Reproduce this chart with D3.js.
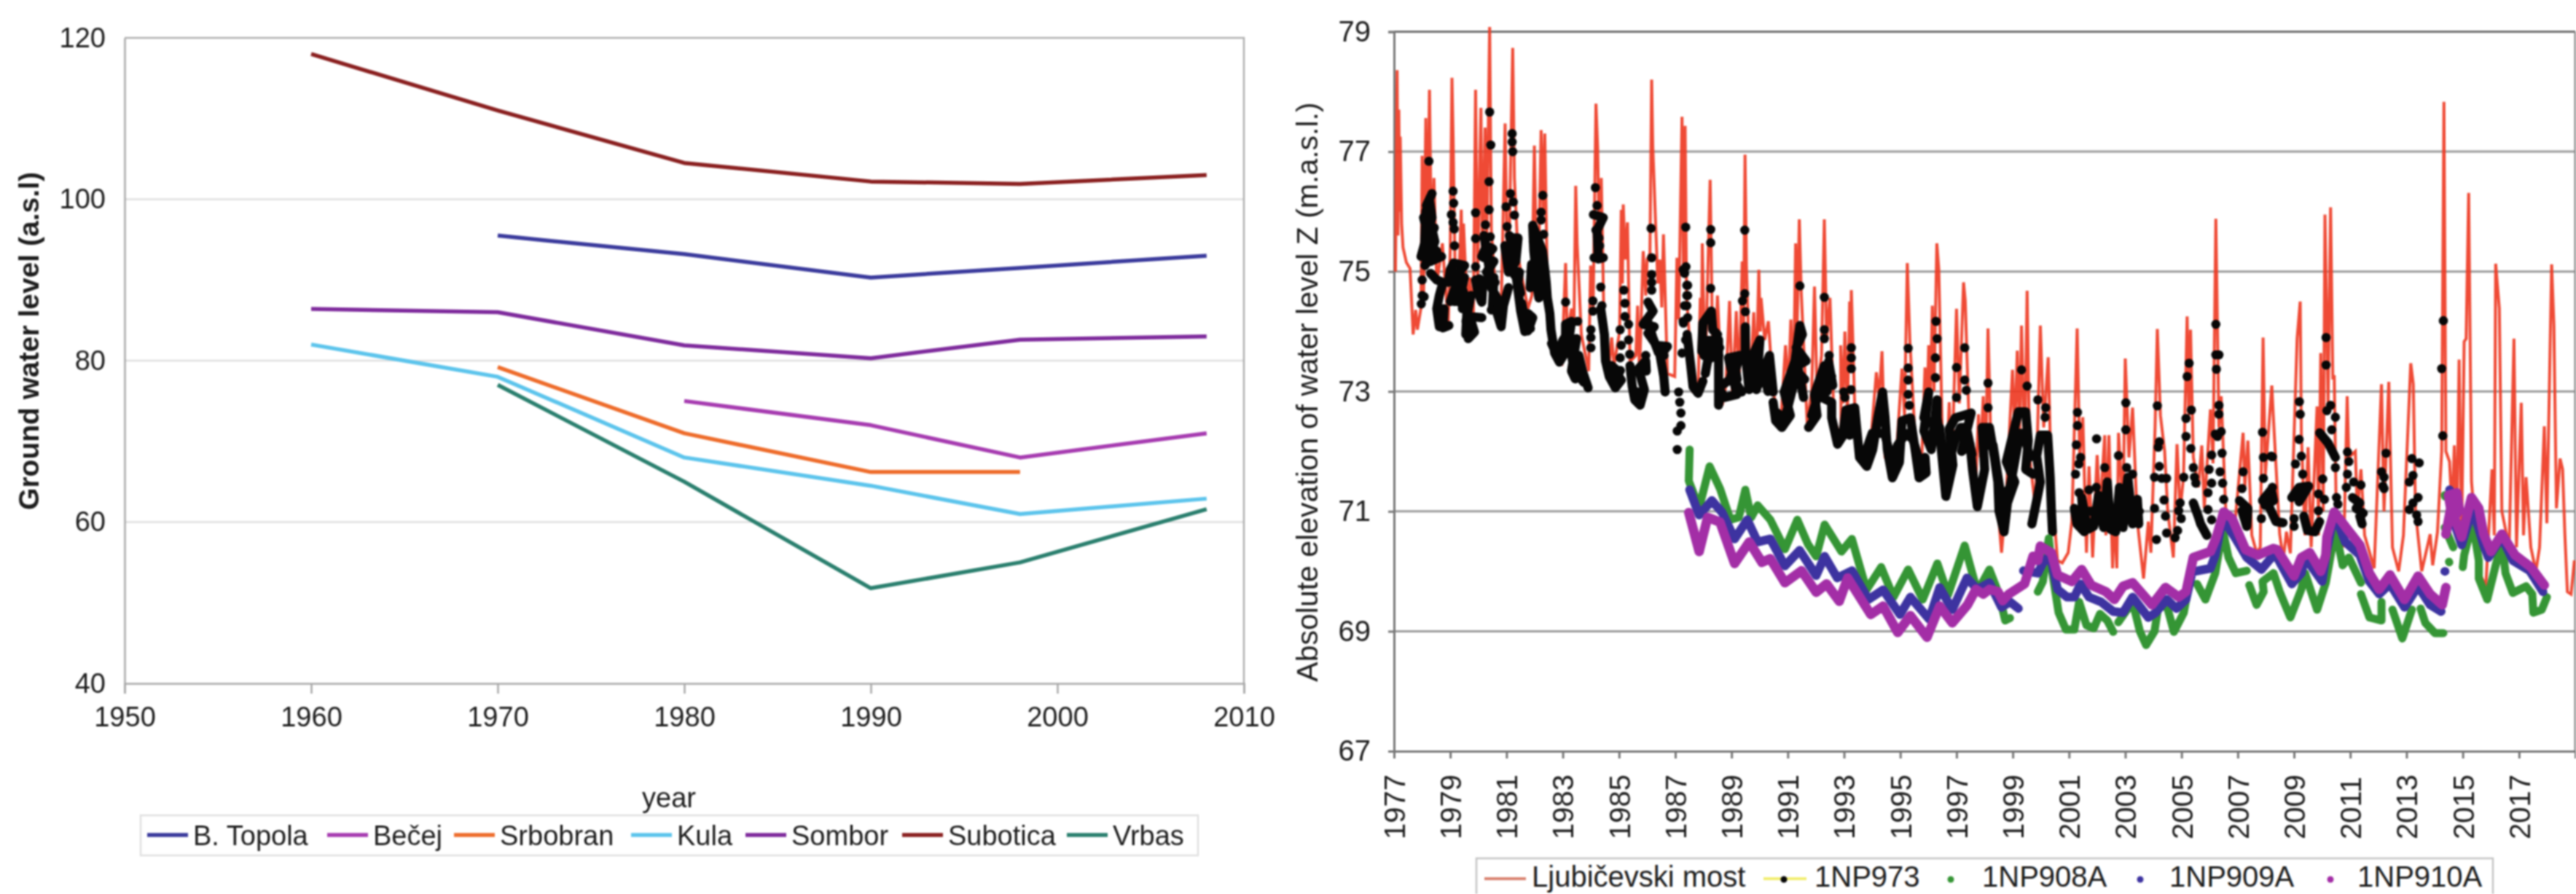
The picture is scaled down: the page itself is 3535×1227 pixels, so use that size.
<!DOCTYPE html>
<html><head><meta charset="utf-8">
<script src="https://cdn.jsdelivr.net/npm/d3@7"></script>
<style>
html,body{margin:0;padding:0;background:#fff;overflow:hidden}
svg{display:block;filter:blur(0.8px)}
text{font-family:"Liberation Sans",Arial,sans-serif;fill:#1c1c1c}
</style></head><body><svg id="c" width="3535" height="1227"></svg>
<script>
// ---------- left chart data ----------
const bTopola=[[1970,95.5],[1980,93.2],[1990,90.3],[1998,91.5],[2008,93]];
const becej=[[1980,75],[1990,72],[1998,68],[2008,71]];
const srbobran=[[1970,79.2],[1980,71],[1990,66.2],[1998,66.2]];
const kula=[[1960,82],[1970,78],[1980,68],[1990,64.5],[1998,61],[2008,62.9]];
const sombor=[[1960,86.4],[1970,86],[1980,81.9],[1990,80.3],[1998,82.6],[2008,83]];
const subotica=[[1960,118],[1970,111],[1980,104.5],[1990,102.2],[1998,101.9],[2008,103]];
const vrbas=[[1970,77],[1980,65],[1990,51.8],[1998,55],[2008,61.6]];
const leftNames=["B. Topola","Bečej","Srbobran","Kula","Sombor","Subotica","Vrbas"];
const leftXTicks=[1950,1960,1970,1980,1990,2000,2010];
const leftYTicks=[40,60,80,100,120];

// ---------- right chart data ----------
const rightYTicks=[67,69,71,73,75,77,79];
const rightXTicks=[1977,1979,1981,1983,1985,1987,1989,1991,1993,1995,1997,1999,2001,2003,2005,2007,2009,2011,2013,2015,2017];
const rightNames=["Ljubičevski most","1NP973","1NP908A","1NP909A","1NP910A"];

const ljubicevski=[[1977.05,75],[1977.11,78.36],[1977.14,75.6],[1977.17,77.7],[1977.2,76],[1977.22,77.25],[1977.27,75.8],[1977.32,75.4],[1977.44,75.15],[1977.57,75.05],[1977.68,73.95],[1977.77,74.36],[1977.83,74.03],[1977.96,74.4],[1978,76.93],[1978.05,74.6],[1978.13,77.56],[1978.18,75.2],[1978.26,78.03],[1978.3,76.56],[1978.36,75.4],[1978.42,76.56],[1978.52,74.8],[1978.72,75.47],[1978.82,74.8],[1978.93,74.17],[1979,75.4],[1979.06,78.23],[1979.1,77.25],[1979.17,75.03],[1979.3,74.7],[1979.39,76.03],[1979.43,75],[1979.47,75.8],[1979.6,74.38],[1979.69,74.9],[1979.82,74.17],[1979.9,78.03],[1979.97,74.9],[1980.09,77.73],[1980.14,75.25],[1980.24,77.4],[1980.29,75.25],[1980.4,79.08],[1980.46,75.7],[1980.59,74.8],[1980.8,74.17],[1980.95,77.47],[1981.02,75.25],[1981.1,75.6],[1981.22,78.73],[1981.28,76.56],[1981.41,75.25],[1981.76,74.38],[1981.9,74.6],[1981.99,77.1],[1982.06,75.25],[1982.16,75.6],[1982.23,77.36],[1982.3,76],[1982.36,77.3],[1982.45,74.8],[1982.71,73.73],[1982.97,73.5],[1983.1,75.14],[1983.16,73.95],[1983.31,74.38],[1983.4,74.2],[1983.46,76.43],[1983.51,75.47],[1983.66,73.95],[1983.92,73.34],[1983.99,75.1],[1984.08,74.4],[1984.18,77.8],[1984.24,77.06],[1984.31,75.2],[1984.37,76.56],[1984.48,73.73],[1984.66,73.5],[1984.74,73.9],[1984.82,73.43],[1985.02,74],[1985.08,76.03],[1985.12,74.8],[1985.15,76.12],[1985.22,75.2],[1985.3,75.82],[1985.39,73.5],[1985.6,73.6],[1985.66,74.43],[1985.73,73.3],[1985.86,75.34],[1985.95,74.6],[1986,75.2],[1986.1,75.3],[1986.16,78.2],[1986.2,77.08],[1986.38,74.8],[1986.45,75.2],[1986.52,74.4],[1986.58,75.62],[1986.72,73.3],[1986.98,73.25],[1987.06,75.23],[1987.12,74.2],[1987.24,77.58],[1987.29,75],[1987.35,77.43],[1987.4,74.6],[1987.63,73],[1987.81,73],[1987.89,74.56],[1987.93,73.6],[1987.96,75.47],[1988.06,73.2],[1988.24,76.53],[1988.33,73.64],[1988.44,73.8],[1988.5,74.6],[1988.67,72.77],[1988.8,73.1],[1988.93,74.51],[1989.03,72.9],[1989.17,74.34],[1989.27,73.1],[1989.38,75.17],[1989.43,74],[1989.48,76.95],[1989.53,75.1],[1989.66,73],[1989.79,74.32],[1989.88,73.2],[1989.97,75.03],[1990.02,74],[1990.05,74.56],[1990.18,73.86],[1990.31,74.17],[1990.48,73],[1990.74,72.38],[1990.92,73.77],[1991.02,73],[1991.11,74.2],[1991.2,73],[1991.28,75.47],[1991.33,74],[1991.41,75.87],[1991.48,74.64],[1991.69,72.47],[1991.85,73],[1991.95,74.75],[1992.04,73],[1992.2,73.6],[1992.3,75.87],[1992.38,73.86],[1992.5,74.56],[1992.64,72.56],[1992.9,72.2],[1992.88,73.77],[1992.96,72.8],[1993.03,74],[1993.12,72.6],[1993.2,74.5],[1993.23,73.4],[1993.26,74.69],[1993.38,72.77],[1993.68,71.8],[1993.94,72.1],[1994.15,73.32],[1994.25,72.9],[1994.35,73.67],[1994.46,71.9],[1994.72,71.69],[1994.88,72.1],[1995.06,73.38],[1995.15,72.6],[1995.25,75.14],[1995.34,73.86],[1995.54,72.12],[1995.75,71.69],[1995.88,73.4],[1995.95,72.6],[1996.01,73.77],[1996.07,72.9],[1996.14,74.43],[1996.2,73],[1996.3,75.47],[1996.37,75.03],[1996.49,72.34],[1996.62,71.34],[1996.74,72.82],[1996.83,71.69],[1997,74.38],[1997.1,72.8],[1997.25,74.82],[1997.31,74.51],[1997.44,72.56],[1997.65,71.08],[1997.78,72.62],[1997.85,71.9],[1997.95,72.92],[1998.03,71.7],[1998.12,74.05],[1998.21,72.36],[1998.38,71.6],[1998.6,70.31],[1998.77,71.27],[1998.99,73.36],[1999.07,72.3],[1999.16,73.68],[1999.24,72.3],[1999.31,74.1],[1999.42,71.9],[1999.51,74.68],[1999.6,71.9],[1999.81,71.05],[1999.98,74.1],[2000.1,72.4],[2000.26,73.57],[2000.37,71.5],[2000.59,70.18],[2000.76,70.14],[2000.97,70.31],[2001.1,70.83],[2001.29,74.05],[2001.38,71.9],[2001.49,72.57],[2001.62,70.31],[2001.71,71.75],[2001.84,70.23],[2002,71.94],[2002.1,71],[2002.27,72.27],[2002.31,70.6],[2002.42,72.27],[2002.55,70.05],[2002.61,71],[2002.7,70.05],[2002.76,72.31],[2002.92,71],[2003,73.55],[2003.13,71.9],[2003.26,72.73],[2003.43,70.83],[2003.65,69.88],[2003.82,70.83],[2003.91,70.31],[2004.06,72.4],[2004.14,74.04],[2004.25,72.6],[2004.4,72],[2004.51,71],[2004.71,70.23],[2004.84,72.12],[2004.95,71],[2005.07,71.57],[2005.2,74.25],[2005.26,72.6],[2005.32,74.03],[2005.42,71.9],[2005.6,71.4],[2005.72,72.1],[2005.81,71.05],[2006.03,72.7],[2006.12,71.8],[2006.22,75.88],[2006.33,72.4],[2006.41,72.92],[2006.57,71.05],[2006.9,70.8],[2007.19,72.31],[2007.25,71.4],[2007.36,72.18],[2007.5,70.6],[2007.67,70.31],[2007.8,70.4],[2007.9,73.9],[2007.98,71.6],[2008.21,73.1],[2008.26,72.62],[2008.49,70.62],[2008.62,70.2],[2008.73,70.66],[2008.87,70.3],[2009.11,73.88],[2009.22,74.5],[2009.26,72.3],[2009.39,70.6],[2009.5,72.07],[2009.61,70.4],[2009.82,72.75],[2009.87,70.6],[2009.95,73.64],[2010.04,71],[2010.1,75.95],[2010.21,72.8],[2010.3,76.07],[2010.38,73.2],[2010.43,73.27],[2010.5,71],[2010.77,70.4],[2010.89,72.92],[2010.95,71.9],[2011.18,72],[2011.25,71],[2011.38,71.7],[2011.51,70.6],[2011.85,70.05],[2012.11,73.12],[2012.2,71],[2012.37,73.16],[2012.5,70.4],[2012.72,70],[2012.89,70.6],[2013.15,73.47],[2013.24,73.12],[2013.32,71],[2013.54,70],[2013.84,70.62],[2013.93,70.1],[2014.1,70.65],[2014.25,72],[2014.33,77.83],[2014.4,72],[2014.53,71.83],[2014.62,71],[2014.7,72.1],[2014.79,70.8],[2014.87,73.53],[2014.96,70.6],[2015.05,73.83],[2015.12,73.88],[2015.21,76.31],[2015.31,71.5],[2015.57,70],[2015.82,69.75],[2016.04,71.7],[2016.12,70.6],[2016.17,75.13],[2016.3,74.38],[2016.39,71],[2016.65,70.4],[2016.82,73.88],[2016.91,70.4],[2017.08,72.81],[2017.16,70.6],[2017.25,71.57],[2017.42,70.4],[2017.6,70],[2017.73,70.4],[2017.9,72.42],[2017.99,70.8],[2018.16,75.12],[2018.24,74.1],[2018.33,71.05],[2018.46,71.88],[2018.55,71.7],[2018.63,70.62],[2018.72,69.66],[2018.85,69.62],[2018.97,70.18]];

const np973Runs=[
[1977.96,75.25],[1978.09,75.47],[1978.13,76],[1978.26,76.2],[1978.35,75.9],[1978.22,75.69],[1978.43,75.73],[1978.17,75.47],[1978.52,75.34],[1978.04,75.25],[1978.69,75.25],[1978.3,75.17],null,
[1978.3,74.97],[1978.52,74.86],[1978.74,74.82],[1978.61,74.6],[1978.52,74.38],[1978.61,74.08],[1978.78,74.38],[1978.74,74.06],[1978.95,74.1],null,
[1978.93,74.82],[1979,75.03],[1979.12,75.14],[1979.51,75.1],[1979.08,74.86],[1979.34,74.82],[1979.51,74.6],[1979.43,74.38],[1979.73,74.6],[1979.56,74.17],[1979.64,73.88],[1979.86,73.99],[1979.69,74.25],[1980.12,74.23],null,
[1979.9,74.86],[1979.99,74.64],[1980.12,74.49],[1980.16,74.82],[1980.03,74.88],null,
[1980.12,75.25],[1980.29,75.43],[1980.51,75.38],[1980.2,75.23],[1980.55,75.17],[1980.29,74.99],[1980.59,74.82],[1980.46,74.73],[1980.72,74.51],[1980.64,74.34],[1980.81,74.08],[1980.89,74.43],[1981.07,74.73],null,
[1981.07,74.99],[1980.94,75.43],[1981.15,75.34],[1981.24,75.56],[1981.41,75.56],[1981.33,75.17],[1981.15,75.03],[1981.46,74.99],[1981.41,74.82],[1981.5,74.64],null,
[1981.54,74.47],[1981.63,74.25],[1981.59,74.17],[1981.76,74.01],[1981.93,74.23],[1981.76,74.3],null,
[1981.84,74.73],[1981.89,75.12],[1982.06,74.82],[1982.15,74.56],[1981.97,75.34],[1981.93,75.77],[1982.1,75.56],[1982.28,75.34],[1982.36,75.03],[1982.41,74.82],[1982.45,74.56],[1982.54,74.3],[1982.58,74.03],[1982.71,73.64],[1982.88,73.49],[1983.1,73.66],[1983.1,74.12],[1983.31,74.17],[1983.18,73.73],[1983.49,73.88],[1983.31,73.34],[1983.44,73.21],[1983.57,73.6],[1983.7,73.34],[1983.9,73.06],null,
[1984.09,75.95],[1984.44,75.9],[1984.22,75.69],[1984.26,75.21],[1984.44,75.23],[1984.11,75.23],null,
[1984.35,74.38],[1984.48,73.95],[1984.52,73.51],[1984.65,73.25],[1984.87,73.06],[1985.08,73.19],[1984.74,73.43],[1985,73.32],null,
[1985.39,73.43],[1985.47,73.08],[1985.56,72.86],[1985.75,72.77],[1985.9,73.03],[1985.69,73.38],[1985.95,73.51],[1985.97,73.34],null,
[1986.03,74.49],[1986.21,74.34],[1985.86,74.12],[1986.25,74.08],[1986.03,73.97],[1986.33,73.77],[1986.72,73.75],[1986.46,73.6],[1986.59,73.25],[1986.64,72.99],null,
[1987.42,73.95],[1987.55,73.43],[1987.63,73.08],[1987.81,72.97],[1987.98,73.17],null,
[1987.94,73.67],[1987.98,74.14],[1988.28,74.34],[1988.33,74.03],[1988.5,73.95],[1988.02,73.6],[1988.58,73.73],[1988.15,73.51],[1988.07,73.3],null,
[1988.54,73.86],[1988.54,72.77],[1988.63,72.99],[1988.76,72.9],[1989.19,72.95],[1988.89,73.56],[1989.29,73.6],[1989.06,73.21],[1989.36,72.99],null,
[1989.49,74.08],[1989.49,73.64],[1989.62,73.03],[1989.71,73.56],[1990.01,73.86],[1989.88,73.03],[1990.35,73.6],[1990.48,72.99],null,
[1990.48,72.82],[1990.57,72.51],[1990.79,72.4],[1991.09,72.6],[1990.87,72.99],[1991.26,73.51],[1991.43,74.1],[1991.52,73.95],[1991.3,73.73],[1991.65,73.51],[1991.35,73.43],[1991.56,72.9],null,
[1991.74,72.4],[1992.04,72.6],[1991.95,72.95],[1992.3,73.43],[1992.56,73.25],[1992.21,72.9],[1992.56,72.82],[1992.56,72.56],[1992.77,72.12],[1992.95,72.25],[1993.07,72.69],[1993.38,72.73],[1993.2,72.27],null,
[1993.38,72.73],[1993.46,72.34],[1993.55,71.9],[1993.81,71.75],[1994.02,72.03],[1994.2,72.56],[1994.37,72.99],[1994.46,72.56],[1994.54,72.03],[1994.72,71.56],[1994.97,71.82],[1995.06,72.51],[1995.36,72.56],[1995.54,71.99],[1995.67,71.56],[1995.92,71.64],[1995.88,71.9],null,
[1995.84,72.56],[1996.01,72.99],[1995.97,72.82],[1995.84,72.34],[1996.1,72.03],[1996.31,72.86],[1996.31,72.56],[1996.44,72.12],[1996.62,71.25],[1996.87,71.77],[1996.74,72.38],[1996.96,72.56],[1997.52,72.64],[1997.18,72],[1997.48,72.12],[1997.57,71.69],[1997.74,71.08],[1998,71.7],[1997.91,72.4],[1998.17,72.4],[1998.34,71.92],[1998.47,71.49],[1998.51,71.01],[1998.69,70.66],[1998.81,71.14],[1999.07,71.49],[1998.77,71.83],[1999.2,72.66],[1999.46,72.66],[1999.55,72.18],[1999.46,71.7],[1999.72,71.62],null,
[1999.68,70.79],[1999.85,71.18],[1999.98,71.49],[1999.85,71.92],[1999.98,72.27],[2000.24,72.27],[2000.33,71.57],[2000.37,71.05],[2000.41,70.66],null,
[2001.19,71.05],[2001.28,70.79],[2001.54,70.66],[2001.45,71.23],[2001.66,70.7],[2001.88,70.75],[2002.05,71.27],[2002.23,70.73],[2002.36,71.49],[2002.48,70.7],[2002.66,70.66],[2002.79,71.4],[2002.92,70.73],[2003.09,71.57],[2003.26,70.79],[2003.43,71.2],[2003.48,70.79],null,
[2005.42,71.14],[2005.59,70.92],[2005.68,70.79],[2005.9,70.6],null,
[2007.06,71.18],[2007.36,71.05],[2007.32,70.75],[2007.15,71.01],null,
[2007.88,71.18],[2008.19,71.36],[2008.27,71.18],[2007.97,71.1],null,
[2008.14,71.05],[2008.36,70.83],[2008.61,70.81],null,
[2008.92,71.23],[2009.18,71.4],[2009.52,71.42],[2009.18,71.16],null,
[2009.35,70.92],[2009.48,70.68],[2009.74,70.66],[2009.91,70.83],null,
[2009.91,72.31],[2010.21,72.14],[2010.47,71.9],null,
[2011.08,71.23],[2011.34,71.14],[2011.21,71.05],[2011.46,70.97],[2011.34,70.92],[2011.42,70.79],null,
[1978.05,75.9],[1978.4,75.3],[1978.1,75.1],[1978.45,75.5],[1978.15,76.1],[1978.35,76.3],null,
[1979,74.5],[1979.3,74.9],[1979.15,74.5],[1979.5,74.9],[1979.3,74.5],[1979.6,74.4],[1979.55,73.95],[1979.85,74],null,
[1980.2,75.6],[1980.4,75],[1980.25,74.8],[1980.55,74.9],[1980.5,74.4],[1980.75,74.3],null,
[1981.1,75.6],[1981.3,75.3],[1981.05,75.1],[1981.35,74.9],[1981.5,74.35],[1981.65,74],[1981.85,74.05],null,
[1981.95,75.5],[1982.2,75.3],[1982,75],[1982.25,74.9],[1982.1,75.1],null,
[1982.6,73.8],[1982.8,73.6],[1983,73.85],[1983.2,74],[1983.35,73.5],[1983.5,73.3],[1983.75,73.15],null,
[1984.6,73.45],[1984.85,73.2],[1985.05,73.35],null,
[1985.6,73],[1985.8,72.95],null,
[1986,74.2],[1986.2,73.9],[1986.4,73.65],[1986.6,73.6],null,
[1988.1,73.85],[1988.4,73.85],[1988.2,73.55],[1988.55,73.6],null,
[1988.65,73.1],[1988.95,73.2],[1989.1,73.5],[1989.2,73.2],null,
[1989.55,73.4],[1989.8,73.3],[1990,73.4],[1990.2,73.2],[1990.3,73],null,
[1990.6,72.65],[1990.9,72.55],[1991.2,73.1],[1991.4,73.3],[1991.6,73.2],null,
[1991.85,72.6],[1992.2,73.1],[1992.4,73],[1992.45,73.5],[1992.6,73.1],null,
[1993.7,71.9],[1994,72.3],[1994.25,72.3],[1994.45,72.3],[1994.7,71.8],[1994.9,72.1],[1995.2,72.3],[1995.45,72.2],[1995.7,71.8],null,
[1996.05,72.5],[1996.25,72.4],[1996.4,72.4],[1996.6,71.6],[1996.95,72.2],[1997.15,72.4],[1997.35,72.4],[1997.55,71.95],null,
[1998.05,72.1],[1998.3,72.1],[1998.6,71.2],[1998.9,71.4],[1999.25,72.3],[1999.4,72.3],[1999.6,71.9],null,
[2001.3,71],[2001.7,71],[2002,71],[2002.4,71],[2002.8,71],[2003.2,71],[2003.5,71]
];
const np973Dots=[[1978,74.86],[1978,74.6],[1978.07,74.58],[1977.97,74.46],[1978.24,76.84],[1979.1,76.34],[1979.12,76.14],[1979.04,75.95],[1979.1,75.82],[1979.14,75.71],[1979.15,75.43],[1979.9,75.98],[1979.9,75.55],[1979.9,75.08],[1980.4,77.66],[1980.44,77.11],[1980.38,76.5],[1980.38,76.03],[1980.25,75.78],[1980.42,75.58],[1981.2,77.3],[1981.2,77.16],[1981.22,77],[1981.14,76.3],[1981.24,76.16],[1980.98,76.08],[1981.28,75.94],[1981.02,75.75],[1980.46,74.36],[1982.29,76.27],[1982.23,75.99],[1982.23,75.86],[1982.32,75.62],[1983.1,74.49],[1983.53,74.17],[1984.07,74.51],[1984.07,74.34],[1984,74.03],[1984,73.9],[1984,73.73],[1984.16,76.4],[1984.22,76.1],[1984.18,75.69],[1984.29,75.56],[1984.31,75.43],[1984.35,74.74],[1984.39,74.43],[1985.17,74.69],[1985.21,74.47],[1985.21,74.25],[1985.34,74.12],[1985.04,74.03],[1985.34,73.86],[1985.08,73.77],[1985.38,73.62],[1985.04,73.56],[1986.14,75.72],[1986.16,75.23],[1986.16,74.95],[1986.16,74.82],[1986.16,74.69],[1985.95,73.6],[1987.37,75.74],[1987.28,75.03],[1987.41,74.77],[1987.41,74.6],[1987.41,74.43],[1987.28,74.17],[1987.37,73.86],[1987.24,73.64],[1987.12,72.99],[1987.16,72.82],[1987.2,72.64],[1987.2,72.43],[1987.07,72.34],[1987.07,72.03],[1987.38,75.08],[1987.33,74.97],[1987.44,74.77],[1987.44,74.6],[1987.33,74.43],[1987.44,74.23],[1987.29,74.14],[1988.26,75.7],[1988.26,75.48],[1988.26,74.72],[1989.47,75.69],[1989.47,74.63],[1989.39,74.51],[1989.49,74.33],[1991.43,74.76],[1992.3,74.57],[1992.3,74.03],[1992.3,73.88],[1992.47,73.6],[1995.28,73.72],[1995.28,73.39],[1995.28,73.19],[1995.28,72.95],[1995.32,72.77],[1996.27,74.17],[1996.31,73.88],[1996.25,73.56],[1996.25,73.23],[1997,73.4],[1997.29,73.73],[1997.29,73.19],[1997.35,73.02],[1997,72.9],[1993.26,73.73],[1993.26,73.56],[1993.26,73.38],[1992.99,72.99],[1993.25,73.03],[1993.03,72.9],[1998.12,73.14],[1998.12,72.73],[1999.31,73.36],[1999.51,73.09],[1999.89,72.86],[2000.17,72.73],[2000.15,72.57],[2001.3,72.65],[2001.3,72.43],[2001.26,72.11],[2001.41,71.9],[2001.35,71.79],[2001.23,71.62],[2001.36,71.31],[2001.98,72.21],[2002.76,71.93],[2003.02,72.81],[2003.02,72.36],[2003.05,71.73],[2002.27,71.73],[2003.26,71.62],[2001.71,71.36],[2001.97,71.4],[2004.14,72.76],[2004.21,72.16],[2004.17,72.07],[2004.21,71.75],[2004.04,71.57],[2004.47,71.55],[2004.3,71.55],[2004.38,71.19],[2004.04,71.05],[2004.43,70.92],[2004.47,70.64],[2004.11,70.53],[2004.77,70.56],[2004.95,71.14],[2004.99,70.88],[2004.86,70.68],[2004.9,71.01],[2005.27,73.47],[2005.2,73.25],[2005.35,72.69],[2005.16,72.55],[2005.16,72.25],[2005.33,72.05],[2005.42,71.73],[2005.08,71.57],[2005.46,71.57],[2005.51,71.47],[2006.22,74.12],[2006.22,73.61],[2006.33,73.61],[2006.24,73.37],[2006.33,72.77],[2006.33,72.62],[2006.2,72.29],[2006.41,72.33],[2006.28,72.25],[2006.07,71.94],[2006.44,71.97],[2006.37,71.66],[2005.98,71.7],[2006.07,71.47],[2006.46,71.47],[2005.94,71.31],[2006.5,71.2],[2005.94,71.03],[2006.07,70.86],[2007.19,71.66],[2007.15,71.38],[2007.88,72.32],[2007.91,71.9],[2007.91,71.55],[2008.19,71.92],[2007.84,70.88],[2008.23,71.91],[2008.23,71.4],[2008.23,71.23],[2009.19,72.83],[2009.22,72.62],[2009.18,72.2],[2009.26,71.92],[2009.05,71.79],[2009.31,71.62],[2009,70.88],[2009,70.75],[2009.87,71.01],[2009.87,71.29],[2010.08,71.2],[2010.02,71.54],[2010.14,73.9],[2010.14,73.44],[2010.3,72.77],[2010.17,72.68],[2010.47,72.57],[2010.34,72.36],[2010.47,71.73],[2010.51,71.23],[2010.56,71.12],[2010.9,71.99],[2010.95,71.83],[2010.9,71.62],[2010.86,71.4],[2011.12,71.49],[2011.38,71.44],[2012.27,71.97],[2012.11,71.66],[2012.2,71.57],[2012.16,71.42],[2012.2,71.38],[2013.19,71.88],[2013.45,71.81],[2013.23,71.6],[2013.1,71.49],[2013.41,71.23],[2013.23,71.14],[2013.1,71.03],[2013.36,70.94],[2013.41,70.83],[2014.31,74.18],[2014.25,73.38],[2014.29,72.26]];

const np908A=[[1987.51,72.03],[1987.48,71.51],[1987.85,71.06],[1988.22,71.75],[1988.59,71.38],[1988.96,70.86],[1989.26,70.9],[1989.49,71.36],[1989.7,70.9],[1989.93,71.1],[1990.38,70.86],[1990.9,70.37],[1991.34,70.86],[1991.72,70.45],[1992.01,70.25],[1992.31,70.78],[1992.91,70.33],[1993.28,70.54],[1993.8,69.69],[1994.32,70.07],[1994.76,69.57],[1995.28,70.03],[1995.8,69.53],[1996.32,70.13],[1996.7,69.61],[1997.29,70.43],[1997.74,69.66],[1998.17,70.03],[1998.51,69.62],[1998.73,69.18],[1998.9,69.22],null,[1999.89,69.66],[2000.07,69.83],[2000.28,70.55],[2000.41,69.97],[2000.63,69.31],[2000.89,69.03],[2001.19,69.03],[2001.36,69.49],[2001.62,69.1],[2001.88,69.05],[2002.1,69.29],[2002.36,69.18],[2002.57,68.99],null,[2002.75,69.15],[2003.26,69.49],[2003.52,69],[2003.74,68.77],[2004.04,69],[2004.17,69.4],[2004.47,69.44],[2004.73,68.99],[2005.08,69.31],[2005.25,69.75],null,[2005.55,69.79],[2005.85,69.53],[2006.2,69.97],[2006.46,70.7],[2006.67,70.23],[2006.93,69.97],[2007.32,70.01],null,[2007.41,69.77],[2007.67,69.44],[2007.92,69.66],[2007.88,69.83],[2008.27,69.97],[2008.49,69.66],[2008.87,69.23],[2009.26,69.7],[2009.39,69.97],[2009.82,69.36],[2010.13,69.81],[2010.47,70.7],[2010.73,70.1],[2010.95,70.23],[2011.38,69.81],null,[2011.38,69.62],[2011.68,69.23],[2012.11,69.18],[2012.11,69.49],null,[2012.5,69.36],[2012.85,68.88],[2013.19,69.36],null,[2013.5,69.38],[2013.67,69.14],[2014.01,68.97],[2014.31,68.97],null,[2014.36,71.27],[2014.37,71.25],null,[2014.36,70.73],[2014.66,70.4],null,[2014.51,70.16],[2014.52,70.15],null,[2015,70.07],[2015.05,70.27],[2015.35,70.83],[2015.57,70.18],[2015.57,69.88],[2015.87,69.53],[2016.17,70.1],[2016.39,70.49],[2016.52,69.97],[2016.78,69.64],[2017.25,69.75],[2017.47,69.62],[2017.51,69.31],[2017.81,69.36],[2017.99,69.57]];

const np909A=[[1987.51,71.36],[1987.85,70.94],[1988.3,71.18],[1988.67,70.98],[1989.11,70.54],[1989.56,70.86],[1989.93,70.49],[1990.38,70.54],[1990.9,70.09],[1991.42,70.35],[1992.01,69.93],[1992.31,70.25],[1992.76,69.89],[1993.28,70.01],[1993.87,69.53],[1994.39,69.69],[1994.99,69.28],[1995.36,69.57],[1996.03,69.2],[1996.4,69.73],[1996.85,69.36],[1997.37,69.89],[1997.74,69.7],[1998.17,69.81],[1998.6,69.4],[1998.9,69.49],[1999.2,69.38],null,[1999.38,70.01],[1999.89,69.97],[2000.07,70.14],[2000.33,70.27],[2000.59,69.7],[2000.93,69.57],[2001.19,69.57],[2001.41,69.79],[2001.71,69.57],[2002.14,69.49],[2002.57,69.33],[2002.92,69.31],[2003.26,69.57],[2003.82,69.23],[2004.08,69.31],[2004.47,69.53],[2004.82,69.38],[2005.16,69.53],[2005.38,69.99],[2006.03,70.05],[2006.2,70.27],[2006.46,70.88],[2006.89,70.57],[2007.32,70.23],[2007.84,70.03],[2008.27,70.27],[2008.4,70.23],[2008.92,69.79],[2009.26,69.97],[2009.39,70.23],[2010,69.83],[2010.17,70.36],[2010.43,70.97],[2010.82,70.49],[2011.34,70.27],[2011.68,69.83],[2012.03,69.62],[2012.41,69.79],[2012.93,69.4],[2013.41,69.75],[2013.84,69.44],[2014.23,69.33],null,[2014.36,70],[2014.37,70],null,[2014.53,71.36],[2014.79,71.1],[2014.7,70.8],[2014.96,70.44],[2015.35,71.05],[2015.74,70.44],[2015.91,70.23],[2016.39,70.57],[2016.78,70.18],[2017.38,70.01],[2017.85,69.66]];

const np910A=[[1987.48,70.98],[1987.85,70.33],[1988.15,70.9],[1988.59,70.82],[1989.11,70.13],[1989.63,70.49],[1990.08,70.15],[1990.38,70.21],[1990.9,69.81],[1991.49,70.01],[1992.01,69.65],[1992.38,69.79],[1992.83,69.5],[1993.13,69.89],[1993.95,69.28],[1994.39,69.42],[1994.91,68.98],[1995.36,69.26],[1995.95,68.9],[1996.4,69.42],[1996.85,69.14],[1997.39,69.44],[1997.69,69.7],[1997.95,69.62],[1998.17,69.7],[1998.47,69.66],[1998.64,69.51],[1998.86,69.62],[1999.42,69.79],[1999.72,70.25],[1999.89,70.18],[1999.98,70.42],[2000.37,70.31],[2000.59,69.94],[2001.1,69.83],[2001.45,70.03],[2001.79,69.77],[2002.31,69.66],[2002.61,69.53],[2002.92,69.75],[2003.26,69.81],[2003.95,69.44],[2004.43,69.73],[2004.9,69.57],[2005.16,69.66],[2005.42,70.23],[2006.03,70.33],[2006.24,70.57],[2006.5,70.99],[2006.8,70.88],[2007.28,70.36],[2007.71,70.27],[2008.27,70.38],[2008.4,70.36],[2009,69.92],[2009.26,70.23],[2009.56,70.31],[2009.95,70],[2010.13,70.27],[2010.17,70.57],[2010.43,70.99],[2010.9,70.7],[2011.34,70.44],[2011.68,69.97],[2012.03,69.7],[2012.41,69.94],[2012.93,69.53],[2013.41,69.92],[2013.84,69.62],[2014.27,69.44],[2014.4,69.73],null,[2014.4,70.62],[2014.57,71.05],[2014.49,71.27],[2014.79,71.31],[2014.88,71.02],[2014.7,70.9],[2014.96,70.57],[2015.31,71.23],[2015.57,71.05],[2015.74,70.62],[2016,70.33],[2016.39,70.62],[2016.86,70.27],[2017.42,70.07],[2017.9,69.77]];

// ---------- drawing ----------
const svg=d3.select("#c");
const lineOf=(x,y)=>d3.line().defined(d=>d!==null).x(d=>x(d[0])).y(d=>y(d[1]));

// left panel
const lx=d3.scaleLinear().domain([1950,2010]).range([171,1707]);
const ly=d3.scaleLinear().domain([40,120]).range([938,52]);
const L=svg.append("g");
L.append("g").selectAll("line").data([60,80,100]).join("line")
 .attr("x1",lx(1950)).attr("x2",lx(2010)).attr("y1",d=>ly(d)).attr("y2",d=>ly(d))
 .attr("stroke","#dedede").attr("stroke-width",2.5);
L.append("path").attr("d",`M${lx(1950)},${ly(120)}H${lx(2010)}V${ly(40)}`).attr("fill","none").attr("stroke","#b0b0b0").attr("stroke-width",2.5);
const laxX=L.append("g").attr("transform",`translate(0,${ly(40)})`)
 .call(d3.axisBottom(lx).tickValues(leftXTicks).tickFormat(d3.format("d")).tickSize(14).tickPadding(18));
const laxY=L.append("g").attr("transform",`translate(${lx(1950)},0)`)
 .call(d3.axisLeft(ly).tickValues(leftYTicks).tickSize(0).tickPadding(26));
[laxX,laxY].forEach(a=>{a.selectAll("text").attr("font-size",38).style("font-family","Liberation Sans").attr("fill","#1c1c1c");
 a.selectAll("line,path").attr("stroke","#a8a8a8").attr("stroke-width",2.5);});
const leftSeries=[bTopola,becej,srbobran,kula,sombor,subotica,vrbas];
const leftColors=["#3a3a9c","#a63bb0","#ee6c2b","#5cc4ec","#7e2a9c","#8a1f1f","#2a7f6e"];
leftSeries.forEach((s,i)=>L.append("path").datum(s).attr("d",lineOf(lx,ly)).attr("fill","none").attr("stroke",leftColors[i]).attr("stroke-width",5.5).attr("stroke-linejoin","round"));
L.append("text").attr("transform","translate(43,468) rotate(-90)").attr("text-anchor","middle").attr("dominant-baseline","middle").attr("font-weight","bold").attr("font-size",39).text("Ground water level (a.s.l)");
L.append("text").attr("x",918).attr("y",1108).attr("text-anchor","middle").attr("font-size",38).text("year");
L.append("rect").attr("x",193).attr("y",1119).attr("width",1451).attr("height",55).attr("fill","#fff").attr("stroke","#e0e0e0").attr("stroke-width",2.5);
const leftSwatch=[202,449,623,866,1023,1238,1464];
leftNames.forEach((n,i)=>{
 L.append("line").attr("x1",leftSwatch[i]).attr("x2",leftSwatch[i]+56).attr("y1",1146).attr("y2",1146).attr("stroke",leftColors[i]).attr("stroke-width",5.5);
 L.append("text").attr("x",leftSwatch[i]+63).attr("y",1160).attr("font-size",38).text(n);
});

// right panel
const rx=d3.scaleLinear().domain([1977,2019]).range([1913,3534]);
const ry=d3.scaleLinear().domain([67,79]).range([1031,43.5]);
const R=svg.append("g");
R.append("g").selectAll("line").data(rightYTicks.slice(1)).join("line")
 .attr("x1",rx(1977)).attr("x2",rx(2019)).attr("y1",d=>ry(d)).attr("y2",d=>ry(d))
 .attr("stroke",d=>d===79?"#6e6e6e":"#9a9a9a").attr("stroke-width",3);
R.append("path").attr("d",`M${rx(2019)},${ry(79)}V${ry(67)}`).attr("stroke","#8c8c8c").attr("stroke-width",3).attr("fill","none");
const raxX=R.append("g").attr("transform",`translate(0,${ry(67)})`)
 .call(d3.axisBottom(rx).tickValues(rightXTicks.concat([2019])).tickFormat(d=>d===2019?"":d3.format("d")(d)).tickSize(10));
raxX.selectAll("text").attr("x",0).attr("y",0).attr("dy","0.36em").attr("text-anchor","start").attr("transform","translate(0,121) rotate(-90)");
const raxY=R.append("g").attr("transform",`translate(${rx(1977)},0)`)
 .call(d3.axisLeft(ry).tickValues(rightYTicks).tickSize(8).tickPadding(24));
[raxX,raxY].forEach(a=>{a.selectAll("text").attr("font-size",40).style("font-family","Liberation Sans").attr("fill","#1c1c1c");
 a.selectAll("line,path").attr("stroke","#777").attr("stroke-width",3);});
R.append("text").attr("transform","translate(1797,538) rotate(-90)").attr("text-anchor","middle").attr("dominant-baseline","middle").attr("font-size",41).text("Absolute elevation of water level Z (m.a.s.l.)");

const rl=lineOf(rx,ry);
R.append("path").datum(ljubicevski).attr("d",rl).attr("fill","none").attr("stroke","#ee3b24").attr("stroke-width",4).attr("stroke-linejoin","miter").attr("opacity",.92);
R.append("path").datum(np973Runs).attr("d",rl).attr("fill","none").attr("stroke","#070707").attr("stroke-width",12.5).attr("stroke-linejoin","round").attr("stroke-linecap","round");
R.append("g").selectAll("circle").data(np973Dots).join("circle").attr("cx",d=>rx(d[0])).attr("cy",d=>ry(d[1])).attr("r",6.3).attr("fill","#070707");
[[np908A,"#359535",11],[np909A,"#3d33a0",12],[np910A,"#a32ea6",13]].forEach(([s,c,w])=>
 R.append("path").datum(s).attr("d",rl).attr("fill","none").attr("stroke",c).attr("stroke-width",w).attr("stroke-linejoin","round").attr("stroke-linecap","round"));

// right legend
R.append("rect").attr("x",2026).attr("y",1178).attr("width",1395).attr("height",70).attr("fill","#fff").attr("stroke","#c4c4c4").attr("stroke-width",2.5);
R.append("line").attr("x1",2037).attr("x2",2094).attr("y1",1206).attr("y2",1206).attr("stroke","#d9826f").attr("stroke-width",4);
R.append("line").attr("x1",2420).attr("x2",2479).attr("y1",1206).attr("y2",1206).attr("stroke","#f2ee70").attr("stroke-width",4);
const rightDotX=[null,2448,2677,2937,3198];
const rightDotColor=[null,"#070707","#359535","#3d33a0","#a32ea6"];
rightDotX.forEach((x,i)=>{if(x)R.append("circle").attr("cx",x).attr("cy",1207).attr("r",4.5).attr("fill",rightDotColor[i]);});
const rightTextX=[2102,2490,2720,2977,3235];
rightNames.forEach((n,i)=>R.append("text").attr("x",rightTextX[i]).attr("y",1217).attr("font-size",40).text(n));
</script></body></html>
